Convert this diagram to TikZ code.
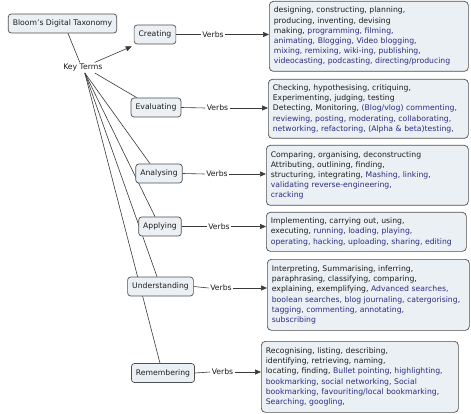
\documentclass[tikz,border=0pt]{standalone}
\usepackage{fontspec}
\setmainfont{DejaVu Sans}
\usetikzlibrary{arrows.meta,backgrounds}
\definecolor{boxfill}{HTML}{EAF0F4}
\definecolor{boxline}{HTML}{505050}
\definecolor{verbblue}{HTML}{2D2D82}
\definecolor{txt}{HTML}{1E1E1E}
\definecolor{linkc}{HTML}{3A3A3A}
\newcommand\bl[1]{\textcolor{verbblue}{#1}}
\begin{document}
\begin{tikzpicture}[x=1pt,y=-1pt,
 every node/.style={font=\fontsize{7.7}{10.2}\selectfont, text=txt},
 concept/.style={draw=boxline, fill=boxfill, rounded corners=3pt, line width=0.7pt, minimum height=19pt, inner xsep=4.5pt, inner ysep=0pt},
 verbbox/.style={draw=boxline, fill=boxfill, rounded corners=4pt, line width=0.7pt, anchor=north west, align=left, inner xsep=4.5pt, inner ysep=0pt},
 phrase/.style={inner sep=1.5pt},
 link/.style={draw=linkc, line width=0.6pt},
 arr/.style={link, -{Triangle[length=6pt,width=5pt]}}]
\useasboundingbox (0,0) rectangle (471,414);

% concepts
\node[concept] (bloom) at (62.5,23.5) {Bloom's Digital Taxonomy};
\node[phrase] (kt) at (82.8,67.7) {Key Terms};
\node[concept] (cr) at (155,34.5) {Creating};
\node[concept] (ev) at (156,107.5) {Evaluating};
\node[concept] (an) at (159,173.5) {Analysing};
\node[concept] (ap) at (160,226.5) {Applying};
\node[concept] (un) at (160.5,286.5) {Understanding};
\node[concept] (re) at (163,373) {Remembering};

% linking phrases
\node[phrase] (v1) at (213,34.5) {Verbs};
\node[phrase] (v2) at (217.5,108) {Verbs};
\node[phrase] (v3) at (217,174) {Verbs};
\node[phrase] (v4) at (219,226.5) {Verbs};
\node[phrase] (v5) at (221,288) {Verbs};
\node[phrase] (v6) at (222.5,372) {Verbs};

% verb boxes
\node[verbbox, text width=190pt, minimum height=70pt] (b1) at (269,1) {designing, constructing, planning,\\
producing, inventing, devising\\
making, \bl{programming, filming,}\\
\bl{animating, Blogging, Video blogging,}\\
\bl{mixing, remixing, wiki-ing, publishing,}\\
\bl{videocasting, podcasting, directing/producing}};

\node[verbbox, text width=191pt, minimum height=59pt] (b2) at (268,79) {Checking, hypothesising, critiquing,\\
Experimenting, judging, testing\\
Detecting, Monitoring, \bl{(Blog/vlog) commenting,}\\
\bl{reviewing, posting, moderating, collaborating,}\\
\bl{networking, refactoring, (Alpha \& beta)testing,}};

\node[verbbox, text width=193pt, minimum height=60pt] (b3) at (266,145) {Comparing, organising, deconstructing\\
Attributing, outlining, finding,\\
structuring, integrating, \bl{Mashing, linking,}\\
\bl{validating reverse-engineering,}\\
\bl{cracking}};

\node[verbbox, text width=191pt, minimum height=39pt] (b4) at (266,212) {Implementing, carrying out, using,\\
executing, \bl{running, loading, playing,}\\
\bl{operating, hacking, uploading, sharing, editing}};

\node[verbbox, text width=193pt, minimum height=71pt] (b5) at (267,259) {Interpreting, Summarising, inferring,\\
paraphrasing, classifying, comparing,\\
explaining, exemplifying, \bl{Advanced searches,}\\
\bl{boolean searches, blog journaling, catergorising,}\\
\bl{tagging, commenting, annotating,}\\
\bl{subscribing}};

\node[verbbox, text width=188pt, minimum height=71pt] (b6) at (261,341) {Recognising, listing, describing,\\
identifying, retrieving, naming,\\
locating, finding, \bl{Bullet pointing, highlighting,}\\
\bl{bookmarking, social networking, Social}\\
\bl{bookmarking, favouriting/local bookmarking,}\\
\bl{Searching, googling,}};

\begin{scope}[on background layer]
\fill[white] (0,0) rectangle (471,414);
\draw[link] ([xshift=5.5pt]bloom.south) -- ([xshift=-3pt]kt.north);
\draw[arr] ([xshift=12pt]kt.north) -- ([xshift=-2pt,yshift=-2pt]cr.south west);
\draw[link] ([xshift=12pt]kt.south) -- ([xshift=6pt]ev.north west);
\draw[link] ([xshift=2pt]kt.south) -- ([xshift=-9pt]an.north);
\draw[link] ([xshift=2pt]kt.south) -- ([xshift=-5pt]ap.north);
\draw[link] ([xshift=2pt]kt.south) -- ([xshift=-3.5pt]un.north);
\draw[link] ([xshift=2pt]kt.south) -- ([xshift=-3pt]re.north);
\end{scope}

\foreach \c/\v/\b in {cr/v1/b1, ev/v2/b2, an/v3/b3, ap/v4/b4, un/v5/b5, re/v6/b6}{
  \draw[link] (\c.east) -- (\v.west);
  \draw[arr] (\v.east) -- (\v.east -| \b.west);
}
\end{tikzpicture}
\end{document}
